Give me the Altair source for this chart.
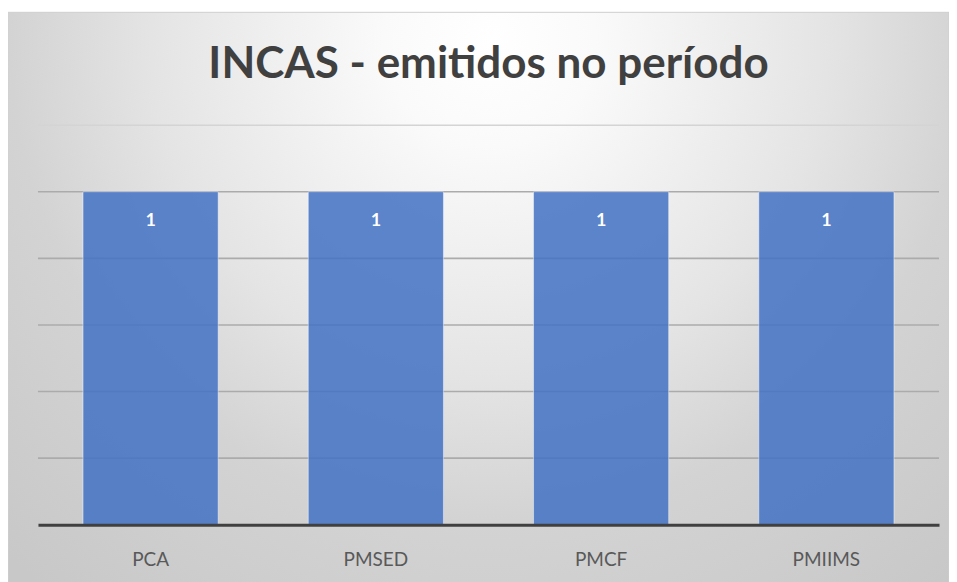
import altair as alt
import pandas as pd

title_text = "INCAS - emitidos no período"
categories = ["PCA", "PMSED", "PMCF", "PMIIMS"]
values = [1, 1, 1, 1]
grid_values = [0.2, 0.4, 0.6, 0.8, 1.0]
top_grid = [1.2]

df = pd.DataFrame({"cat": categories, "val": values})
grid_df = pd.DataFrame({"v": grid_values})
top_df = pd.DataFrame({"v": top_grid})
bg_df = pd.DataFrame({"a": [0]})

W, H = 902, 400
yscale = alt.Scale(domain=[0, 1.2], nice=False, zero=True)
xscale = alt.Scale(domain=categories, paddingInner=0.4, paddingOuter=0.2)

gradient = alt.RadialGradient(
    gradient="radial",
    x1=0.512, y1=0.225, r1=0,
    x2=0.512, y2=0.225, r2=0.75,
    stops=[
        alt.GradientStop(color="#ffffff", offset=0),
        alt.GradientStop(color="#fafafa", offset=0.15),
        alt.GradientStop(color="#e4e4e4", offset=0.48),
        alt.GradientStop(color="#d3d3d3", offset=0.68),
        alt.GradientStop(color="#c8c8c8", offset=1),
    ],
)

bg = alt.Chart(bg_df).mark_rect(fill=gradient, stroke="#d0d0d0", strokeWidth=1).encode(
    x=alt.value(-30), x2=alt.value(912), y=alt.value(-113), y2=alt.value(462)
)

grid_top = alt.Chart(top_df).mark_rule(color="#d4d4d4", strokeWidth=1.6).encode(
    y=alt.Y("v:Q", scale=yscale, axis=None),
)

grid = alt.Chart(grid_df).mark_rule(color="#ababab", strokeWidth=1.6).encode(
    y=alt.Y("v:Q", scale=yscale, axis=None),
)

bars = alt.Chart(df).mark_bar(
    color="#4472C4", fillOpacity=0.86, stroke="#ffffff", strokeOpacity=0.45, strokeWidth=1
).encode(
    x=alt.X(
        "cat:N", scale=xscale, title=None,
        axis=alt.Axis(
            labelAngle=0, ticks=False, domain=True, domainColor="#404040", domainWidth=3,
            grid=False, labelFont="Lato", labelFontSize=19, labelColor="#595959",
            labelPadding=26, labelBaseline="top", zindex=1,
        ),
    ),
    y=alt.Y("val:Q", scale=yscale, axis=None),
)

labels = alt.Chart(df).mark_text(
    color="#ffffff", font="Lato", fontWeight="bold", fontSize=18, baseline="middle", dy=29
).encode(
    x=alt.X("cat:N", scale=xscale),
    y=alt.Y("val:Q", scale=yscale),
    text="val:Q",
)

title_mark = alt.Chart(bg_df).mark_text(
    font="Lato", fontSize=44, fontWeight="bold", color="#404040",
    align="center", baseline="alphabetic",
).encode(
    x=alt.value(W / 2), y=alt.value(-47), text=alt.value(title_text)
)

chart = alt.layer(bg, grid_top, grid, bars, labels, title_mark).properties(
    width=W, height=H,
    autosize=alt.AutoSizeParams(type="none"),
    padding={"left": 30, "top": 117, "right": 10, "bottom": 57},
).configure_view(strokeWidth=0).configure(background="#ffffff")

chart.save("out.html", embed_options={"renderer": "svg", "actions": False})
